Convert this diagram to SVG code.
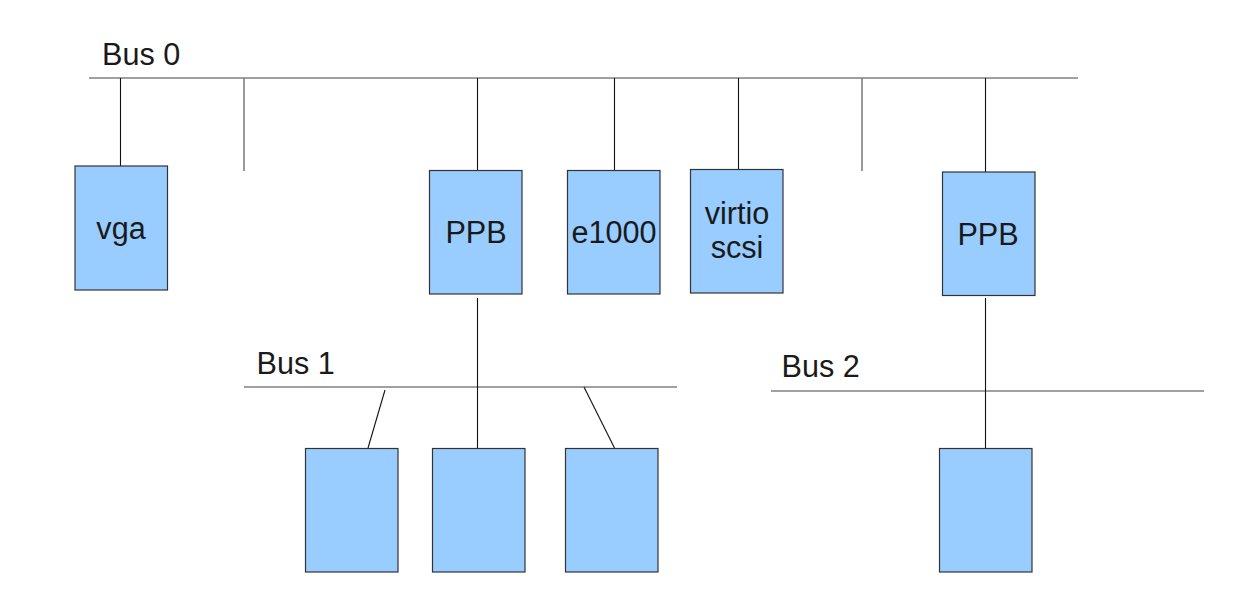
<svg xmlns="http://www.w3.org/2000/svg" width="1253" height="590" viewBox="0 0 1253 590">
<style>
.bus{stroke:#808080;stroke-width:1.6;fill:none}
.stub{stroke:#808080;stroke-width:1.6;fill:none}
.wire{stroke:#111;stroke-width:1.1;fill:none}
.box{fill:#99ccff;stroke:#333;stroke-width:1.2}
.lbl{font-family:"Liberation Sans",Arial,sans-serif;font-size:30.6px;fill:#1a1a1a}
.c{text-anchor:middle}
</style>
<rect width="1253" height="590" fill="#fff"/>
<g id="connectors">
<line class="bus" x1="89" y1="78" x2="1078" y2="78"/>
<line class="bus" x1="244" y1="387" x2="677" y2="387"/>
<line class="bus" x1="771" y1="391" x2="1204" y2="391"/>
<line class="wire" x1="120.5" y1="78" x2="120.5" y2="166"/>
<line class="stub" x1="244" y1="78" x2="244" y2="171"/>
<line class="wire" x1="477.5" y1="78" x2="477.5" y2="171"/>
<line class="wire" x1="614.5" y1="78" x2="614.5" y2="171"/>
<line class="wire" x1="738.5" y1="78" x2="738.5" y2="169"/>
<line class="stub" x1="862" y1="78" x2="862" y2="171"/>
<line class="wire" x1="985.5" y1="78" x2="985.5" y2="172"/>
<line class="wire" x1="477.5" y1="298" x2="477.5" y2="448"/>
<line class="wire" x1="385" y1="390" x2="368" y2="448"/>
<line class="wire" x1="584" y1="387" x2="614.5" y2="448"/>
<line class="wire" x1="985.5" y1="298" x2="985.5" y2="448"/>
</g>
<g id="bus0-label"><text class="lbl" x="102" y="65">Bus 0</text></g>
<g id="bus1-label"><text class="lbl" x="256.5" y="374">Bus 1</text></g>
<g id="bus2-label"><text class="lbl" x="781.5" y="377">Bus 2</text></g>
<g id="vga"><rect class="box" x="75" y="166" width="92.5" height="124"/><text class="lbl c" x="121" y="239">vga</text></g>
<g id="ppb1"><rect class="box" x="429.5" y="170.5" width="92.5" height="123.5"/><text class="lbl c" x="476" y="243">PPB</text></g>
<g id="e1000"><rect class="box" x="567.5" y="170.5" width="92.5" height="123.5"/><text class="lbl c" x="614" y="243">e1000</text></g>
<g id="virtio-scsi"><rect class="box" x="690.5" y="169.5" width="92.5" height="123.5"/><text class="lbl c" x="737" y="224">virtio</text><text class="lbl c" x="737" y="258">scsi</text></g>
<g id="ppb2"><rect class="box" x="942.5" y="172" width="92.5" height="123.5"/><text class="lbl c" x="988" y="245">PPB</text></g>
<g id="dev1a"><rect class="box" x="305.5" y="448.5" width="92.5" height="123.5"/></g>
<g id="dev1b"><rect class="box" x="432.5" y="448.5" width="92.5" height="123.5"/></g>
<g id="dev1c"><rect class="box" x="565.5" y="448.5" width="92.5" height="123.5"/></g>
<g id="dev2a"><rect class="box" x="939.5" y="448.5" width="92.5" height="123.5"/></g>
</svg>
